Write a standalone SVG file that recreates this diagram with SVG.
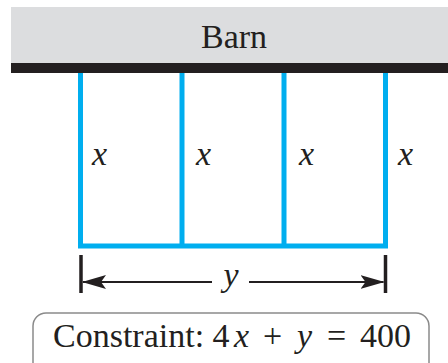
<svg xmlns="http://www.w3.org/2000/svg" width="448" height="363" viewBox="0 0 448 363">
<style>
.t{font-family:"Liberation Serif","Times New Roman",serif;font-size:34px;fill:#231f20}
.i{font-style:italic}
.fence{fill:none;stroke:#00aeef;stroke-width:5}
.dim{fill:none;stroke:#231f20;stroke-width:2}
.tick{stroke:#231f20;stroke-width:3.5}
</style>
<defs>
<marker id="ah" viewBox="0 0 24 14" refX="23" refY="7" markerWidth="24" markerHeight="14" markerUnits="userSpaceOnUse" orient="auto">
<path d="M0,0 L24,7 L0,14 L5,7 Z" fill="#231f20"/>
</marker>
</defs>
<g id="barn">
<rect x="11" y="7" width="437" height="56" fill="#dcdddf"/>
<rect x="11" y="63" width="437" height="10" fill="#231f20"/>
<text class="t" x="234" y="48" text-anchor="middle">Barn</text>
</g>
<g id="fence">
<path class="fence" d="M80.5,73 V246 H385.5 V73 M182,73 V246 M284,73 V246"/>
<text class="t i" x="92" y="165">x</text>
<text class="t i" x="196" y="165">x</text>
<text class="t i" x="299" y="165">x</text>
<text class="t i" x="398" y="165">x</text>
</g>
<g id="connectors">
<line class="tick" x1="81" y1="255" x2="81" y2="293"/>
<line class="tick" x1="385.5" y1="255" x2="385.5" y2="293"/>
<line class="dim" x1="212" y1="282" x2="83" y2="282" marker-end="url(#ah)"/>
<line class="dim" x1="249" y1="282" x2="383.5" y2="282" marker-end="url(#ah)"/>
<text class="t i" x="231" y="286" text-anchor="middle">y</text>
</g>
<g id="constraint">
<rect x="33" y="313" width="396" height="70" rx="13" fill="none" stroke="#8a8a8a" stroke-width="1.5"/>
<text class="t" y="347"><tspan x="53">Constraint: 4</tspan><tspan class="i" x="234">x</tspan><tspan x="263">+</tspan><tspan class="i" x="297">y</tspan><tspan x="327">=</tspan><tspan x="360">400</tspan></text>
</g>
</svg>
